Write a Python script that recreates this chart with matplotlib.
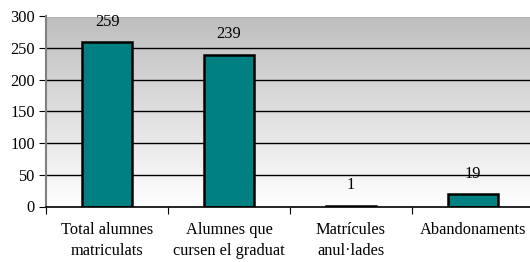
import numpy as np
import matplotlib.pyplot as plt

categories = ['Total alumnes\nmatriculats', 'Alumnes que\ncursen el graduat',
              'Matrícules\nanul·lades', 'Abandonaments']
values = [259, 239, 1, 19]
yticks = [0, 50, 100, 150, 200, 250, 300]

plt.rcParams['font.family'] = ['Liberation Serif', 'DejaVu Serif']
plt.rcParams['font.size'] = 11.8

fig = plt.figure(figsize=(5.30, 2.62), dpi=100)
# plot area runs slightly past the right edge, as in the original
ax = fig.add_axes([46 / 530, 1 - 206.5 / 262, 488 / 530, 190 / 262])

x = np.arange(len(values))
ax.set_xlim(-0.5, len(values) - 0.5)
ax.set_ylim(0, 300)

# grey (top) to white (bottom) gradient background
shade = np.linspace(1.0, 0.745, 256)
grad = np.dstack([shade, shade, shade]).reshape(256, 1, 3)
ax.imshow(grad, aspect='auto', extent=[-0.5, len(values) - 0.5, 0, 300],
          origin='lower', zorder=0)

for yv in yticks[1:]:
    ax.axhline(yv, color='black' if yv != 300 else '#808080', lw=1, zorder=1)

ax.bar(x, values, width=0.41, color='#008080', edgecolor='black', lw=1.8, zorder=2)

for xi, v in zip(x, values):
    ax.annotate(str(v), (xi, v), xytext=(0, 15), textcoords='offset points',
                ha='center', va='center')

ax.set_yticks(yticks)
ax.set_xticks(np.arange(-0.5, len(values), 1.0))
ax.set_xticklabels([])
ax.set_xticks(x, minor=True)
ax.set_xticklabels(categories, minor=True, linespacing=1.45)
ax.tick_params(axis='x', which='minor', length=0, pad=11)
ax.tick_params(axis='x', which='major', length=5, direction='out', color='black')
ax.tick_params(axis='y', length=5, direction='out', pad=3)

for s in ['top', 'right']:
    ax.spines[s].set_visible(False)
ax.spines['left'].set_color('#808080')
ax.spines['left'].set_linewidth(1.5)
ax.spines['bottom'].set_color('black')
ax.spines['bottom'].set_linewidth(1.2)

fig.savefig('out.png', dpi=100)
